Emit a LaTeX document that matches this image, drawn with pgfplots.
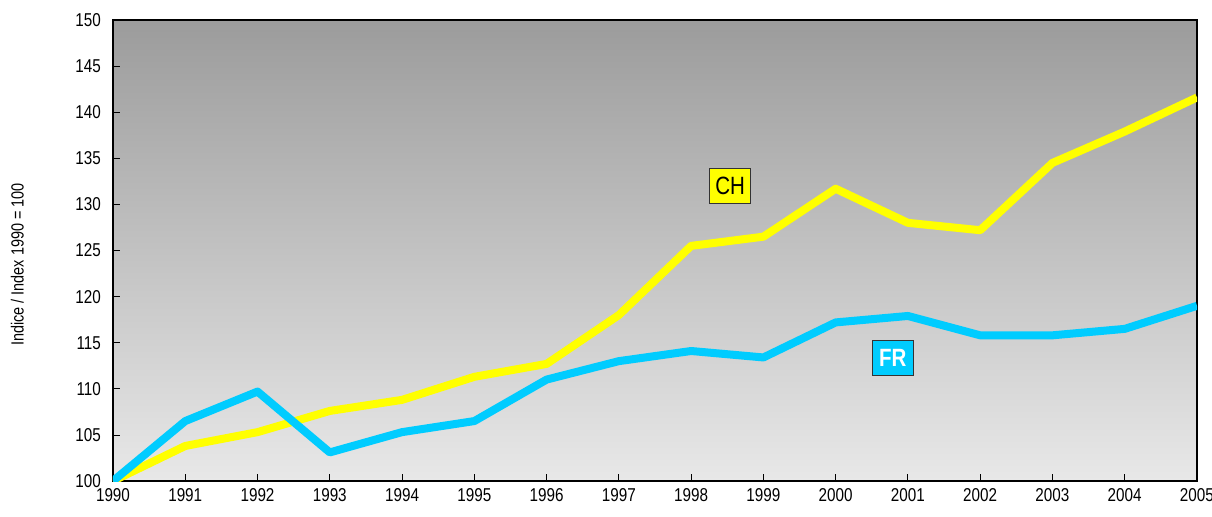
\documentclass[border=0pt]{standalone}
\usepackage{pgfplots}
\pgfplotsset{compat=1.18}
\usepackage{fontspec}
\setmainfont{Liberation Sans}
\newfontfamily\narrow[FakeStretch=0.82]{Liberation Sans}
\definecolor{chyel}{RGB}{255,255,0}
\definecolor{frblue}{RGB}{0,204,255}
\begin{document}
\begin{tikzpicture}
\useasboundingbox (-56.5pt,-17.5pt) rectangle (549.5pt,240.5pt);
\begin{axis}[
  at={(0,0)}, anchor=south west,
  scale only axis,
  width=542pt, height=230.5pt,
  xmin=1990, xmax=2005, ymin=100, ymax=150,
  xtick={1990,...,2005}, ytick={100,105,...,150},
  xticklabel style={/pgf/number format/1000 sep={}, yshift=-0.3pt},
  yticklabel style={xshift=-2.5pt},
  /pgf/number format/assume math mode=true,
  ticklabel style={font=\narrow\fontsize{9.3}{10}\selectfont},
  tick style={black, thin},
  major tick length=3.5pt,
  tick align=inside,
  xtick pos=bottom, ytick pos=left,
  axis line style={black, line width=0.8pt},
  axis background/.style={top color=black!39, bottom color=black!9},
  ylabel={Indice / Index 1990 = 100},
  ylabel style={font=\narrow\fontsize{8.8}{9}\selectfont, yshift=19pt, xshift=-7pt},
  clip=true,
]
\addplot[chyel, line width=4pt, line join=round] coordinates {
(1990,100) (1991,103.8) (1992,105.3) (1993,107.6) (1994,108.8) (1995,111.3)
(1996,112.7) (1997,118.0) (1998,125.5) (1999,126.5) (2000,131.7) (2001,128.0)
(2002,127.2) (2003,134.5) (2004,137.9) (2005,141.6)};
\addplot[frblue, line width=4pt, line join=round] coordinates {
(1990,100) (1991,106.5) (1992,109.7) (1993,103.1) (1994,105.3) (1995,106.5)
(1996,111.0) (1997,113.0) (1998,114.1) (1999,113.4) (2000,117.2) (2001,117.9)
(2002,115.8) (2003,115.8) (2004,116.5) (2005,119.0)};
\node[fill=chyel, draw=black!80, font=\narrow\fontsize{12.5}{13}\selectfont, inner sep=0pt, minimum width=20.5pt, minimum height=17.5pt] at (axis cs:1998.54,132.05) {CH};
\node[fill=frblue, draw=black!80, text=white, font=\narrow\bfseries\fontsize{12.5}{13}\selectfont, inner sep=0pt, minimum width=20.5pt, minimum height=17.5pt] at (axis cs:2000.79,113.3) {FR};
\end{axis}
\end{tikzpicture}
\end{document}
